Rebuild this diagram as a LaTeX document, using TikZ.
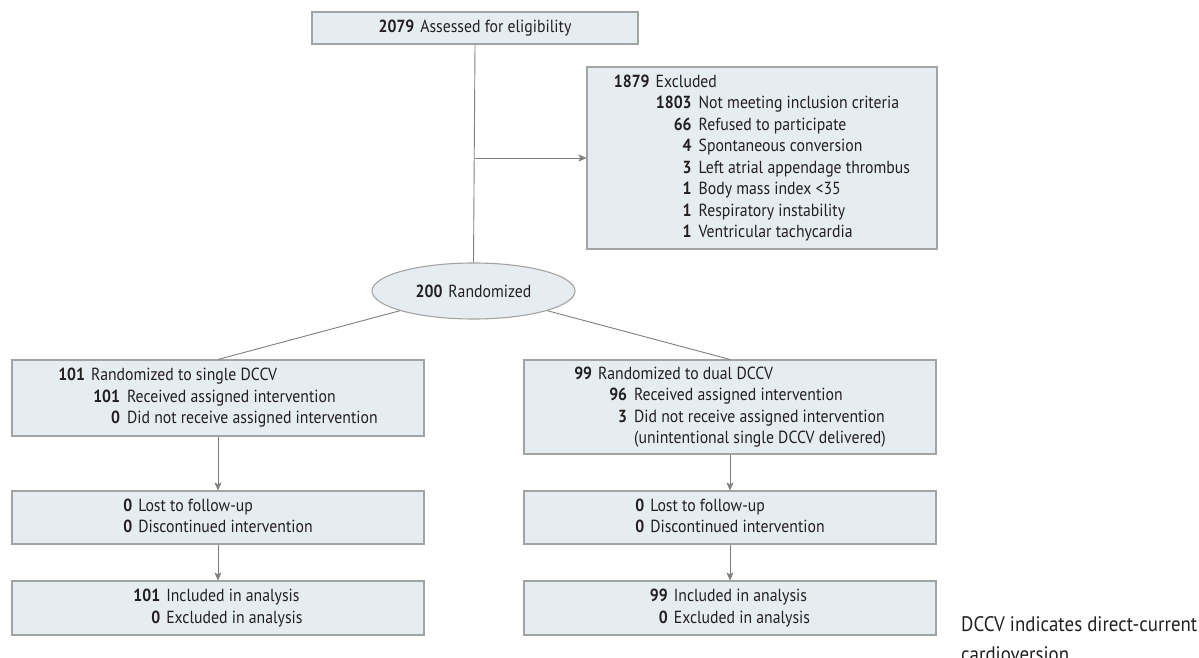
\documentclass[tikz,border=0pt]{standalone}
\usepackage{fontspec}
\setmainfont{PT Sans}[FakeStretch=0.9]
\usetikzlibrary{arrows.meta, positioning, shapes.geometric, calc}
\definecolor{cfbox}{HTML}{E6EDF1}
\definecolor{cfedge}{HTML}{A3A3A3}
\definecolor{cfline}{HTML}{7F7F7F}
\definecolor{cftext}{HTML}{231F20}
\newcommand{\cnt}[1]{\textbf{#1}}
\newcommand{\lvl}[3][29pt]{\makebox[#1][r]{\textbf{#2}}\hspace{7pt}#3}

\begin{document}
\begin{tikzpicture}[
  x=1pt, y=-1pt,
  every node/.style={font=\fontsize{17.5}{21.5}\selectfont, text=cftext},
  flowbox/.style={rectangle, draw=cfedge, fill=cfbox, line width=1.1pt, inner sep=0pt, align=center},
  wideflow/.style={flowbox, minimum width=412pt},
  randnode/.style={ellipse, draw=cfedge, fill=cfbox, line width=1.1pt, inner sep=0pt, minimum width=203pt, minimum height=56pt},
  link/.style={draw=cfline, line width=0.9pt},
  arrow/.style={link, -{Stealth[length=8pt, width=7pt, inset=2pt]}},
]
\useasboundingbox (0,0) rectangle (1199,658);
\node[flowbox, minimum width=326pt, minimum height=32pt] (assess) at (475, 28) {\cnt{2079}\hspace{6pt}Assessed for eligibility};
\node[flowbox, minimum width=350pt, minimum height=182pt] (excl) at (762, 158) {%
  \begin{tabular}{@{}r@{\hspace{6pt}}l@{}}
  \cnt{1879} & Excluded\\
  & \lvl[36pt]{1803}{Not meeting inclusion criteria}\\
  & \lvl[36pt]{66}{Refused to participate}\\
  & \lvl[36pt]{4}{Spontaneous conversion}\\
  & \lvl[36pt]{3}{Left atrial appendage thrombus}\\
  & \lvl[36pt]{1}{Body mass index <35}\\
  & \lvl[36pt]{1}{Respiratory instability}\\
  & \lvl[36pt]{1}{Ventricular tachycardia}
  \end{tabular}};
\node[randnode] (rand) at (473.5, 291) {\cnt{200}\hspace{6pt}Randomized};

\node[wideflow, minimum height=76pt] (single) at (218, 398) {%
  \begin{tabular}{@{}r@{\hspace{6pt}}l@{}}
  \cnt{101} & Randomized to single DCCV\\
  & \lvl{101}{Received assigned intervention}\\
  & \lvl{0}{Did not receive assigned intervention}
  \end{tabular}};
\node[wideflow, minimum height=94pt] (dual) at (730, 407) {%
  \begin{tabular}{@{}r@{\hspace{6pt}}l@{}}
  \cnt{99} & Randomized to dual DCCV\\
  & \lvl{96}{Received assigned intervention}\\
  & \lvl{3}{Did not receive assigned intervention}\\
  & \lvl{}{(unintentional single DCCV delivered)}
  \end{tabular}};

\node[wideflow, minimum height=53pt] (lostS) at (218, 517.5) {%
  \begin{tabular}{@{}r@{\hspace{6pt}}l@{}}
  \cnt{0} & Lost to follow-up\\
  \cnt{0} & Discontinued intervention
  \end{tabular}};
\node[wideflow, minimum height=53pt] (lostD) at (730, 517.5) {%
  \begin{tabular}{@{}r@{\hspace{6pt}}l@{}}
  \cnt{0} & Lost to follow-up\\
  \cnt{0} & Discontinued intervention
  \end{tabular}};
\node[wideflow, minimum height=54pt] (anaS) at (218, 608) {%
  \begin{tabular}{@{}r@{\hspace{6pt}}l@{}}
  \cnt{101} & Included in analysis\\
  \cnt{0} & Excluded in analysis
  \end{tabular}};
\node[wideflow, minimum height=54pt] (anaD) at (730, 608) {%
  \begin{tabular}{@{}r@{\hspace{6pt}}l@{}}
  \cnt{99} & Included in analysis\\
  \cnt{0} & Excluded in analysis
  \end{tabular}};

\node[anchor=base west, inner sep=0pt, align=left, font=\fontsize{21}{30}\selectfont] (note) at (961, 661) {DCCV indicates direct-current\\cardioversion};

% connectors
\coordinate (split) at (assess.south |- excl.west);
\draw[link] (assess.south) -- (rand.north);
\draw[arrow] (split) -- (excl.west);
\draw[link] (rand) -- (single.north);
\draw[link] (rand) -- (dual.north);
\draw[arrow] (single) -- (lostS);
\draw[arrow] (dual) -- (lostD);
\draw[arrow] (lostS) -- (anaS);
\draw[arrow] (lostD) -- (anaD);
\end{tikzpicture}
\end{document}
